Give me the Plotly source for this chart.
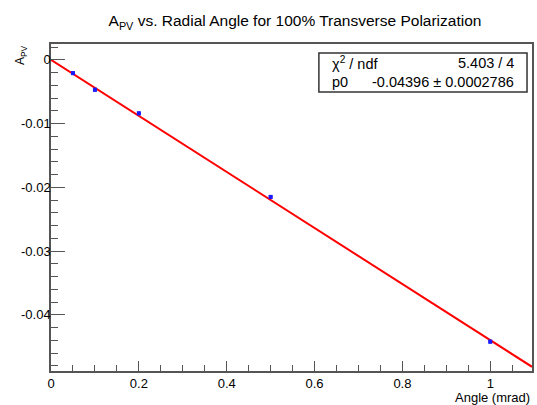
import plotly.graph_objects as go

# measured points (angle in mrad, asymmetry)
angle = [0.05, 0.1, 0.2, 0.5, 1.0]
apv = [-0.0021, -0.0047, -0.0084, -0.0215, -0.0442]
apv_err = [0.0003, 0.0003, 0.0003, 0.0003, 0.0003]

# fit line (pol0 slope through origin)
fit_x = [0.0, 1.095]
fit_y = [0.0, -0.04814]

y_ticks = [0, -0.01, -0.02, -0.03, -0.04]
y_ticktext = ["0", "-0.01", "-0.02", "-0.03", "-0.04"]
x_ticks = [0, 0.2, 0.4, 0.6, 0.8, 1.0]
x_ticktext = ["0", "0.2", "0.4", "0.6", "0.8", "1"]

stats_rows = [["χ<sup>2</sup> / ndf", "5.403 / 4"], ["p0", "-0.04396 ± 0.0002786"]]

W, H = 537, 405
L, R, T, B = 51, 3, 44, 34
pw, ph = W - L - R, H - T - B


def px(x):
    return (x - L) / pw


def py(y):
    return (H - B - y) / ph


FONT = "Liberation Sans, Arial, Helvetica, sans-serif"
AXCOL = "#555555"

fig = go.Figure()

fig.add_trace(go.Scatter(
    x=fit_x, y=fit_y, mode="lines",
    line=dict(color="#ff0000", width=2),
    showlegend=False, hoverinfo="skip",
))

fig.add_trace(go.Scatter(
    x=angle, y=apv, mode="markers",
    marker=dict(symbol="square", size=4, color="#1a1aff"),
    error_y=dict(type="data", array=apv_err, color="#1a1aff", thickness=3.5, width=0),
    showlegend=False,
))

# stats box
fig.add_shape(type="rect", xref="paper", yref="paper",
              x0=px(320), x1=px(529), y0=py(92), y1=py(53),
              line=dict(color="#333333", width=1.5), fillcolor="white", layer="above")
row_y = [63.5, 81.5]
for (lab, val), yy in zip(stats_rows, row_y):
    fig.add_annotation(xref="paper", yref="paper", x=px(331), y=py(yy), text=lab,
                       showarrow=False, xanchor="left", yanchor="middle",
                       font=dict(family=FONT, size=14.5, color="black"))
    fig.add_annotation(xref="paper", yref="paper", x=px(518), y=py(yy), text=val,
                       showarrow=False, xanchor="right", yanchor="middle",
                       font=dict(family=FONT, size=14.5, color="black"))

# axis titles
fig.add_annotation(xref="paper", yref="paper", x=px(534), y=py(397), text="Angle (mrad)",
                   showarrow=False, xanchor="right", yanchor="middle",
                   font=dict(family=FONT, size=13, color="black"))
fig.add_annotation(xref="paper", yref="paper", x=px(21), y=py(43), text="A<sub>PV</sub>",
                   textangle=-90, showarrow=False, xanchor="center", yanchor="top",
                   font=dict(family=FONT, size=12, color="black"))

fig.update_layout(
    width=W, height=H,
    margin=dict(l=L, r=R, t=T, b=B),
    paper_bgcolor="white", plot_bgcolor="white",
    title=dict(text="A<sub>PV</sub> vs. Radial Angle for 100% Transverse Polarization",
               x=295 / W, xanchor="center", y=1 - 21 / H, yanchor="middle",
               font=dict(family=FONT, size=15.5, color="black")),
    xaxis=dict(range=[0, 1.095], tickvals=x_ticks, ticktext=x_ticktext,
               ticks="inside", ticklen=10, tickcolor=AXCOL, tickwidth=1,
               minor=dict(dtick=0.05, tick0=0, ticks="inside", ticklen=6, tickcolor=AXCOL),
               showline=True, linecolor=AXCOL, linewidth=1.5, mirror=True,
               showgrid=False, zeroline=False,
               tickfont=dict(family=FONT, size=13, color="black")),
    yaxis=dict(range=[-0.0488, 0.00247], tickvals=y_ticks, ticktext=y_ticktext,
               ticks="inside", ticklen=14, tickcolor=AXCOL, tickwidth=1,
               minor=dict(dtick=0.002, tick0=0, ticks="inside", ticklen=7, tickcolor=AXCOL),
               showline=True, linecolor=AXCOL, linewidth=1.5, mirror=True,
               showgrid=False, zeroline=False, ticklabelstandoff=-4,
               tickfont=dict(family=FONT, size=13, color="black")),
)

# drop the page's default body margin so the figure sits at the window's corner
fig.write_html("out.html", config={"displayModeBar": False},
               post_script="document.body.style.margin='0';")
